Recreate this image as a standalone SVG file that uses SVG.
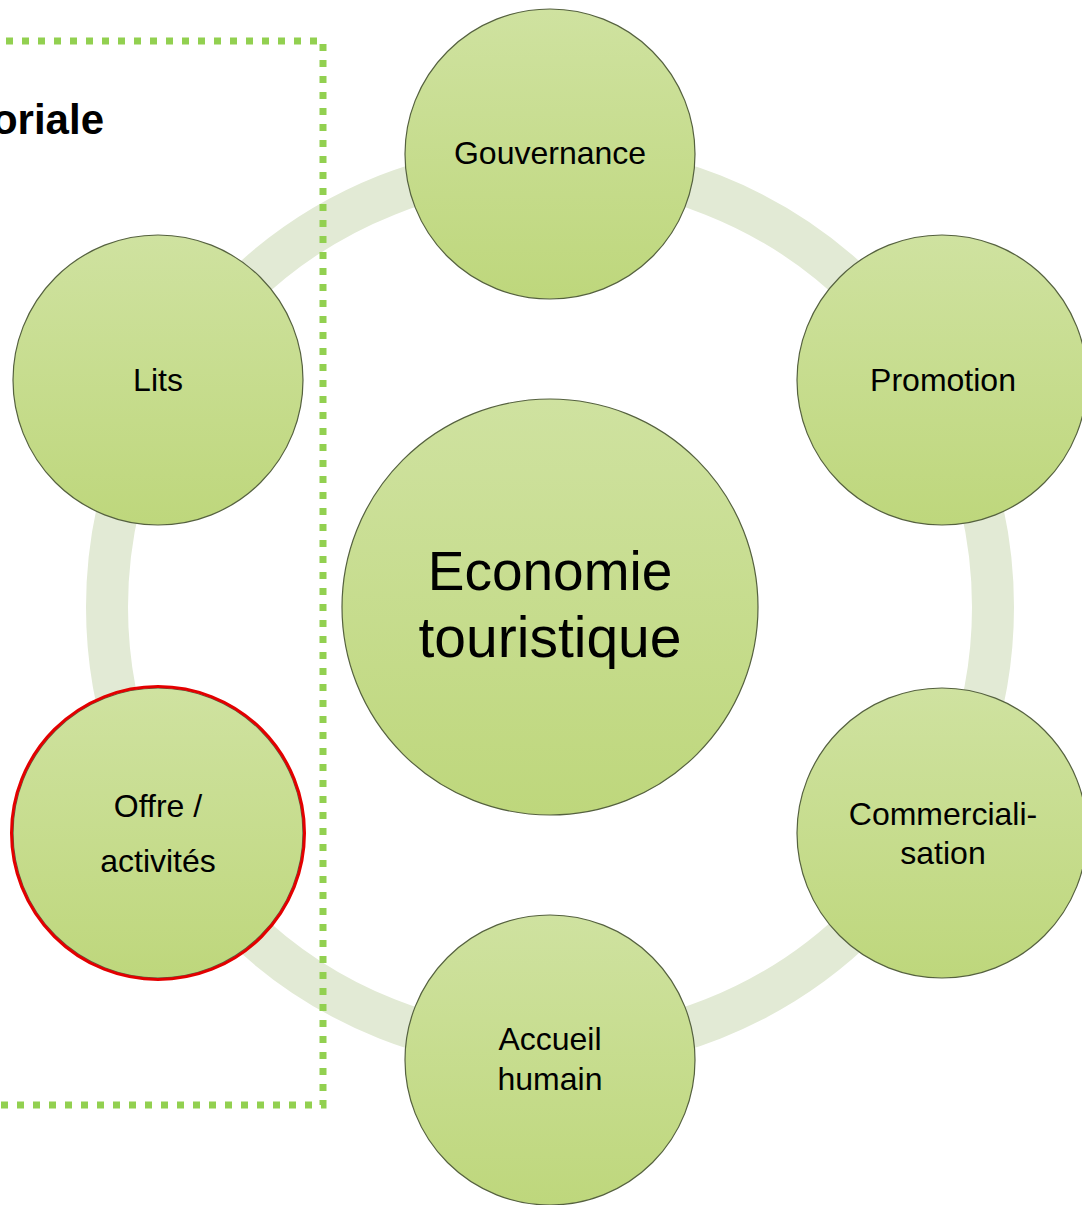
<svg xmlns="http://www.w3.org/2000/svg" width="1082" height="1205" viewBox="0 0 1082 1205">
<style>
.node{fill:url(#g);stroke:#55613f;stroke-width:1.2}
.t{font-family:"Liberation Sans",Arial,sans-serif;fill:#000;text-anchor:middle}
.s{font-size:32px}
</style>
<defs>
<linearGradient id="g" x1="0" y1="0" x2="0" y2="1">
<stop offset="0" stop-color="#cfe2a0"/>
<stop offset="1" stop-color="#bed77c"/>
</linearGradient>
</defs>
<rect width="1082" height="1205" fill="#fff"/>
<g id="connectors">
<circle cx="550" cy="607" r="443" fill="none" stroke="#e2ead5" stroke-width="42"/>
</g>
<g id="frame">
<path d="M-10 41 H323 V1105 H-10" fill="none" stroke="#92d050" stroke-width="7" stroke-dasharray="7 9"/>
<text x="104" y="134" text-anchor="end" font-family="'Liberation Sans',Arial,sans-serif" font-weight="bold" font-size="42">oriale</text>
</g>
<g id="gouvernance">
<circle class="node" cx="550" cy="154" r="145"/>
<text class="t s" x="550" y="164">Gouvernance</text>
</g>
<g id="promotion">
<circle class="node" cx="942" cy="380" r="145"/>
<text class="t s" x="943" y="391">Promotion</text>
</g>
<g id="commercialisation">
<circle class="node" cx="942" cy="833" r="145"/>
<text class="t s" x="943" y="825">Commerciali-</text>
<text class="t s" x="943" y="864">sation</text>
</g>
<g id="accueil">
<circle class="node" cx="550" cy="1060" r="145"/>
<text class="t s" x="550" y="1050">Accueil</text>
<text class="t s" x="550" y="1090">humain</text>
</g>
<g id="offre">
<circle class="node" cx="158" cy="833" r="145"/>
<circle cx="158" cy="833" r="146.5" fill="none" stroke="#e30000" stroke-width="3"/>
<text class="t s" x="158" y="817">Offre /</text>
<text class="t s" x="158" y="872">activités</text>
</g>
<g id="lits">
<circle class="node" cx="158" cy="380" r="145"/>
<text class="t s" x="158" y="391">Lits</text>
</g>
<g id="economie">
<circle class="node" cx="550" cy="607" r="208"/>
<text class="t" x="550" y="590" font-size="55">Economie</text>
<text class="t" x="550" y="657" font-size="57">touristique</text>
</g>
</svg>
